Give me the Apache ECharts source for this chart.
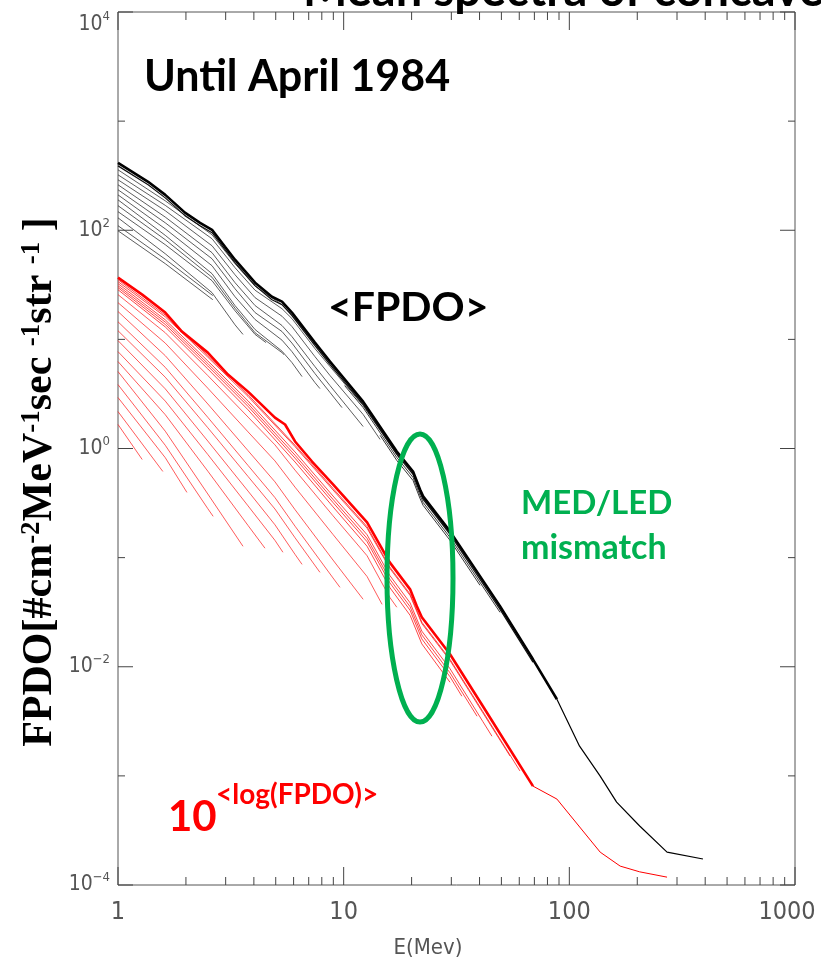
<!DOCTYPE html>
<html><head><meta charset="utf-8">
<script src="https://cdn.jsdelivr.net/npm/echarts@6/dist/echarts.min.js"></script>
<style>html,body{margin:0;padding:0;background:#fff}#c{width:821px;height:965px}</style>
</head><body><div id="c"></div>
<script>
// ---- axis ticks ----
const xTicks = [1, 10, 100, 1000];
const xMinorTicks = [2,3,4,5,6,7,8,9,20,30,40,50,60,70,80,90,200,300,400,500,600,700,800,900];
const yMajorTicks = [1e-4, 1e-2, 1, 1e2, 1e4];
const yMinorTicks = [1e-3, 1e-1, 10, 1e3];

// ---- <FPDO> (black) ----
const blackEnvelope = [[1,415],[1.36,278],[1.62,211],[1.98,145],[2.31,117],[2.61,101],[2.98,70.6],[3.3,53.7],[4.05,33.1],[4.81,24.6],[5.33,22.2],[5.9,17.6],[7.46,9.34],[8.7,6.26],[12.2,2.69],[17.2,0.939],[20.3,0.616],[21.8,0.421],[22.5,0.364],[29.6,0.174],[49.3,0.0358],[69,0.0117],[88.1,0.00504]];
const blackTail = [[88.1,0.00504],[111,0.00187],[137,0.000995],[162,0.000575],[205,0.000347],[271,0.0002],[391,0.000173]];
const blackEnvelope2 = [[1,389],[1.36,261],[1.62,198],[1.98,136],[2.31,110],[2.61,94.9],[2.98,66.3],[3.3,50.4],[4.05,31.1],[4.81,23.1],[5.33,20.8],[5.9,16.5],[7.46,8.77],[8.7,5.88],[12.2,2.53],[17.2,0.882],[20.3,0.578],[21.8,0.396],[22.5,0.341],[29.6,0.163],[49.3,0.0336],[69,0.011]];
const blackBundle3 = [[10.1,3.77],[12.2,2.37],[17.2,0.827],[20.3,0.543],[21.8,0.371],[22.5,0.32],[29.6,0.153],[49.3,0.0315]];
const blackBundle4 = [[14.5,1.32],[17.2,0.777],[20.3,0.509],[21.8,0.348],[22.5,0.301],[29.6,0.144],[40.2,0.0557]];
const blackThin = [
  [[1,110],[1.62,54.3],[2.63,25.2]],
  [[1,98.9],[1.62,49.4],[2.63,23.1]],
  [[1,130],[1.62,60.9],[2.61,26.8],[3.3,13.6],[3.58,11.1]],
  [[1,148],[1.62,73.7],[2.61,34.5],[3.3,18.3],[4.05,11.1],[4.53,9.34]],
  [[1,168],[1.62,81.9],[2.61,37.1],[3.3,19.3],[4.05,11.5],[5.33,7.56],[5.44,7.25]],
  [[1,190],[1.62,89.8],[2.61,40],[3.3,20.4],[4.05,12.3],[5.33,7.8],[5.9,6.13],[6.54,4.56]],
  [[1,211],[1.62,103],[2.61,47.3],[3.3,24.6],[4.05,15.2],[5.33,9.84],[5.9,7.72],[7.46,4.02],[7.85,3.54]],
  [[1,235],[1.62,117],[2.61,54.8],[3.3,29.1],[4.05,17.6],[5.33,11.8],[5.9,9.24],[7.46,4.86],[8.7,3.26],[9.83,2.37]],
  [[1,261],[1.62,132],[2.61,62.3],[3.3,33.1],[4.05,20.4],[5.33,13.4],[5.9,10.6],[7.46,5.63],[8.7,3.77],[12.2,1.59]],
  [[1,290],[1.62,151],[2.61,72.1],[3.3,39.1],[4.05,24.1],[5.33,16.3],[5.9,13.1],[7.46,6.95],[8.7,4.66],[12.2,2.05],[14.5,1.21]],
  [[1,322],[1.62,169],[2.61,83.6],[3.3,45.4],[4.05,28.2],[5.33,19.1],[5.9,15.5],[7.46,8.23],[8.7,5.63],[12.2,2.47],[17.2,0.881],[17.8,0.793]],
  [[1,358],[1.62,186],[2.61,90.9],[3.3,49.4],[4.05,30.7],[5.33,20.8],[5.9,16.7],[7.46,9.15],[8.7,6.19],[12.2,2.58],[17.2,0.9],[20.3,0.59],[21.8,0.404],[22.5,0.349],[29.6,0.167],[35.2,0.0974]]
];

// ---- 10^<log(FPDO)> (red) ----
const redEnvelope = [[1,36.8],[1.28,25.7],[1.62,17.6],[1.92,11.8],[2.5,7.56],[3.07,4.76],[3.77,3.32],[4.96,1.92],[5.5,1.66],[6.09,1.16],[7.24,0.76],[8.97,0.468],[12.7,0.21],[16,0.0905],[19.7,0.0512],[21.1,0.0358],[22.2,0.0284],[29.6,0.013],[41.4,0.00435],[69,0.000806]];
const redTail = [[69,0.000806],[88.1,0.000613],[137,0.0002],[168,0.000149],[205,0.000132],[271,0.000118]];
const redThin = [
  [[1,1.66],[1.28,0.793]],
  [[1,2.18],[1.58,0.616]],
  [[1,2.93],[1.62,0.824],[2.02,0.396]],
  [[1,3.85],[1.62,1.07],[2.5,0.281],[2.64,0.239]],
  [[1,5.07],[1.62,1.44],[2.5,0.383],[3.58,0.127]],
  [[1,6.26],[1.62,2.04],[2.5,0.62],[3.77,0.197],[4.48,0.122]],
  [[1,7.72],[1.62,2.72],[2.5,0.881],[3.77,0.298],[4.96,0.144],[5.38,0.112]],
  [[1,9.74],[1.62,3.52],[2.5,1.17],[3.77,0.407],[4.96,0.2],[6.09,0.107],[6.54,0.0867]],
  [[1,12],[1.62,4.5],[2.5,1.55],[3.77,0.554],[4.96,0.279],[6.09,0.152],[7.85,0.0733]],
  [[1,14.5],[1.62,5.54],[2.5,1.93],[3.77,0.699],[4.96,0.355],[6.09,0.194],[8.97,0.0651],[9.63,0.0534]],
  [[1,18],[1.62,7.09],[2.5,2.56],[3.77,0.955],[4.96,0.495],[6.09,0.275],[8.97,0.095],[12.2,0.0415]],
  [[1,21.7],[1.62,9.24],[2.5,3.57],[3.77,1.42],[4.96,0.77],[6.09,0.442],[8.97,0.163],[12.7,0.0671],[14.8,0.0373]],
  [[1,25.7],[1.62,11.5],[2.5,4.66],[3.77,1.94],[4.96,1.08],[6.09,0.633],[8.97,0.242],[12.7,0.104],[16,0.0433],[17.2,0.0351]],
  [[1,28.5],[1.62,13],[2.5,5.36],[3.77,2.26],[6.09,0.752],[8.97,0.292],[12.7,0.127],[16,0.0533],[19.7,0.0296],[22.2,0.0162],[29.6,0.00721]],
  [[1,29.8],[1.62,13.7],[2.5,5.7],[3.77,2.43],[6.09,0.815],[8.97,0.32],[12.7,0.14],[16,0.059],[19.7,0.0329],[22.2,0.018],[29.6,0.0081],[33.4,0.00537]],
  [[1,31],[1.62,14.4],[2.5,6.01],[3.77,2.57],[6.09,0.868],[8.97,0.342],[12.7,0.15],[16,0.0636],[19.7,0.0355],[22.2,0.0196],[29.6,0.00879],[39,0.00352]],
  [[1,32.4],[1.62,15.1],[2.5,6.35],[3.77,2.73],[6.09,0.929],[8.97,0.367],[12.7,0.162],[16,0.0688],[19.7,0.0385],[22.2,0.0212],[29.6,0.00959],[41.4,0.00314],[45.4,0.00231]],
  [[1,33.8],[1.62,16.1],[2.5,6.87],[3.77,3],[6.09,1.04],[8.97,0.417],[12.7,0.186],[16,0.0799],[19.7,0.045],[22.2,0.0249],[29.6,0.0114],[41.4,0.00378],[54.6,0.00152]],
  [[1,35.2],[1.62,16.7],[2.5,7.11],[3.77,3.11],[6.09,1.07],[8.97,0.431],[12.7,0.192],[16,0.0821],[19.7,0.0463],[22.2,0.0256],[29.6,0.0117],[41.4,0.00388],[60.4,0.00111]]
];

const X_MIN = 1, X_MAX = 1000, Y_MIN = 1e-4, Y_MAX = 1e4;
const F_AXIS = "'Liberation Sans Narrow','DejaVu Sans Condensed','Liberation Sans',sans-serif";
const F_ANN = "Lato,'Open Sans',sans-serif";
const F_SERIF = "'Liberation Serif','DejaVu Serif',serif";

function line(data, color, width, z, opacity) {
  return {type:'line', data:data, symbol:'none', showSymbol:false, silent:true,
    lineStyle:{color:color, width:width, opacity:opacity == null ? 1 : opacity}, z:z, animation:false};
}

const series = [];
redThin.forEach((d, i) => series.push(line(d, '#ff1a1a', 0.9, 2, i < 13 ? 0.8 : 0.9)));
series.push(line(redEnvelope, '#ff0000', 2.6, 3));
series.push(line(redTail, '#ff0000', 1, 3));
blackThin.forEach(d => series.push(line(d, '#2a2a2a', 0.9, 4, 0.85)));
series.push(line(blackBundle3, '#222', 0.9, 4));
series.push(line(blackBundle4, '#222', 0.9, 4));
series.push(line(blackEnvelope2, '#111', 1.2, 5));
series.push(line(blackEnvelope, '#000', 2.6, 5));
series.push(line(blackTail, '#000', 1.2, 5));

const tickData = [].concat(
  xTicks.map(v => [v, 1, 0]),
  xMinorTicks.map(v => [v, 1, 1]),
  yMajorTicks.map(v => [1, v, 2]),
  yMinorTicks.map(v => [1, v, 3])
);
series.push({
  type:'custom', coordinateSystem:'cartesian2d', silent:true, z:10, animation:false,
  encode:{x:0, y:1}, data: tickData,
  renderItem: function (params, api) {
    const k = api.value(2);
    const segs = [];
    if (k < 2) {
      const v = api.value(0), len = k === 0 ? 18 : 8;
      const b = api.coord([v, Y_MIN]), t = api.coord([v, Y_MAX]);
      segs.push([b[0], b[1], b[0], b[1] - len], [t[0], t[1], t[0], t[1] + len]);
    } else {
      const v = api.value(1), len = k === 2 ? 15 : 7;
      const l = api.coord([X_MIN, v]), r = api.coord([X_MAX, v]);
      segs.push([l[0], l[1], l[0] + len, l[1]], [r[0], r[1], r[0] - len, r[1]]);
    }
    return {type:'group', children: segs.map(s => ({type:'line', shape:{x1:s[0], y1:s[1], x2:s[2], y2:s[3]}, style:{stroke:'#444', lineWidth:1}}))};
  }
});

const chart = echarts.init(document.getElementById('c'), null, {renderer:'canvas'});
chart.setOption({
  animation:false,
  backgroundColor:'#fff',
  grid:{left:118, right:26, top:12, bottom:80, containLabel:false, outerBoundsMode:'none',
    show:true, borderColor:'#555', borderWidth:1, backgroundColor:'transparent'},
  xAxis:{type:'log', logBase:10, min:X_MIN, max:X_MAX,
    axisLine:{show:false}, axisTick:{show:false}, splitLine:{show:false},
    axisLabel:{margin:15, color:'#555', fontSize:25, fontFamily:F_AXIS,
      formatter: v => {
        const s = String(Math.round(v));
        return Math.round(v) === X_MAX ? '{r|' + s + '}' : s;
      },
      rich:{ r:{fontSize:25, color:'#555', fontFamily:F_AXIS, padding:[0,16,0,0]} }}},
  yAxis:{type:'log', logBase:10, min:Y_MIN, max:Y_MAX,
    axisLine:{show:false}, axisTick:{show:false}, splitLine:{show:false},
    axisLabel:{margin:8, color:'#555', fontFamily:F_AXIS,
      formatter: function (v) {
        const e = Math.round(Math.log10(v));
        if (e % 2 !== 0) return '';
        const s = e < 0 ? '\u2212' + (-e) : '' + e;
        return e === 4 ? '{bt|10}{st|' + s + '}' : '{b|10}{s|' + s + '}';
      },
      rich:{
        b:{fontSize:21, color:'#555', fontFamily:F_AXIS},
        s:{fontSize:13, color:'#555', fontFamily:F_AXIS, padding:[0,0,14,0]},
        bt:{fontSize:21, color:'#555', fontFamily:F_AXIS, padding:[26,0,0,0]},
        st:{fontSize:13, color:'#555', fontFamily:F_AXIS, padding:[22,0,12,0]}
      }}},
  series: series,
  graphic:[
    {type:'text', x:303, y:-9, z:100, style:{text:'Mean spectra of concave', font:'bold 47px ' + F_ANN, fill:'#000', verticalAlign:'middle'}},
    {type:'text', x:144, y:77, z:100, style:{text:'Until April 1984', font:'bold 43px ' + F_ANN, fill:'#000', verticalAlign:'middle'}},
    {type:'text', x:328, y:308, z:100, style:{text:'<FPDO>', font:'bold 41px ' + F_ANN, fill:'#000', verticalAlign:'middle'}},
    {type:'text', x:521, y:503, z:100, style:{text:'MED/LED', font:'bold 33px ' + F_ANN, fill:'#00b050', verticalAlign:'middle'}},
    {type:'text', x:521, y:548, z:100, style:{text:'mismatch', font:'bold 34px ' + F_ANN, fill:'#00b050', verticalAlign:'middle'}},
    {type:'text', x:168, y:817, z:100, style:{text:'10', font:'bold 42px ' + F_ANN, fill:'#ff0000', verticalAlign:'middle'}},
    {type:'text', x:216, y:795, z:100, style:{text:'<log(FPDO)>', font:'bold 28px ' + F_ANN, fill:'#ff0000', verticalAlign:'middle'}},
    {type:'ellipse', z:100, shape:{cx:420, cy:578, rx:33, ry:144}, style:{fill:'none', stroke:'#00b050', lineWidth:5}},
    {type:'text', x:428, y:948, z:100, style:{text:'E(Mev)', font:'22px ' + F_AXIS, fill:'#555', align:'center', verticalAlign:'middle'}},
    {type:'text', x:40, y:482, z:100, rotation:Math.PI/2, style:{
      text:'{m|FPDO[#cm}{s|-2}{m|MeV}{s|-1}{m|sec }{s|-1}{m|str }{s|-1}{m| ]}',
      align:'center', verticalAlign:'middle',
      rich:{
        m:{font:'bold 42px ' + F_SERIF, fill:'#000'},
        s:{font:'bold 27px ' + F_SERIF, fill:'#000', padding:[0,0,16,0]}
      }}}
  ]
});
</script>
</body></html>
